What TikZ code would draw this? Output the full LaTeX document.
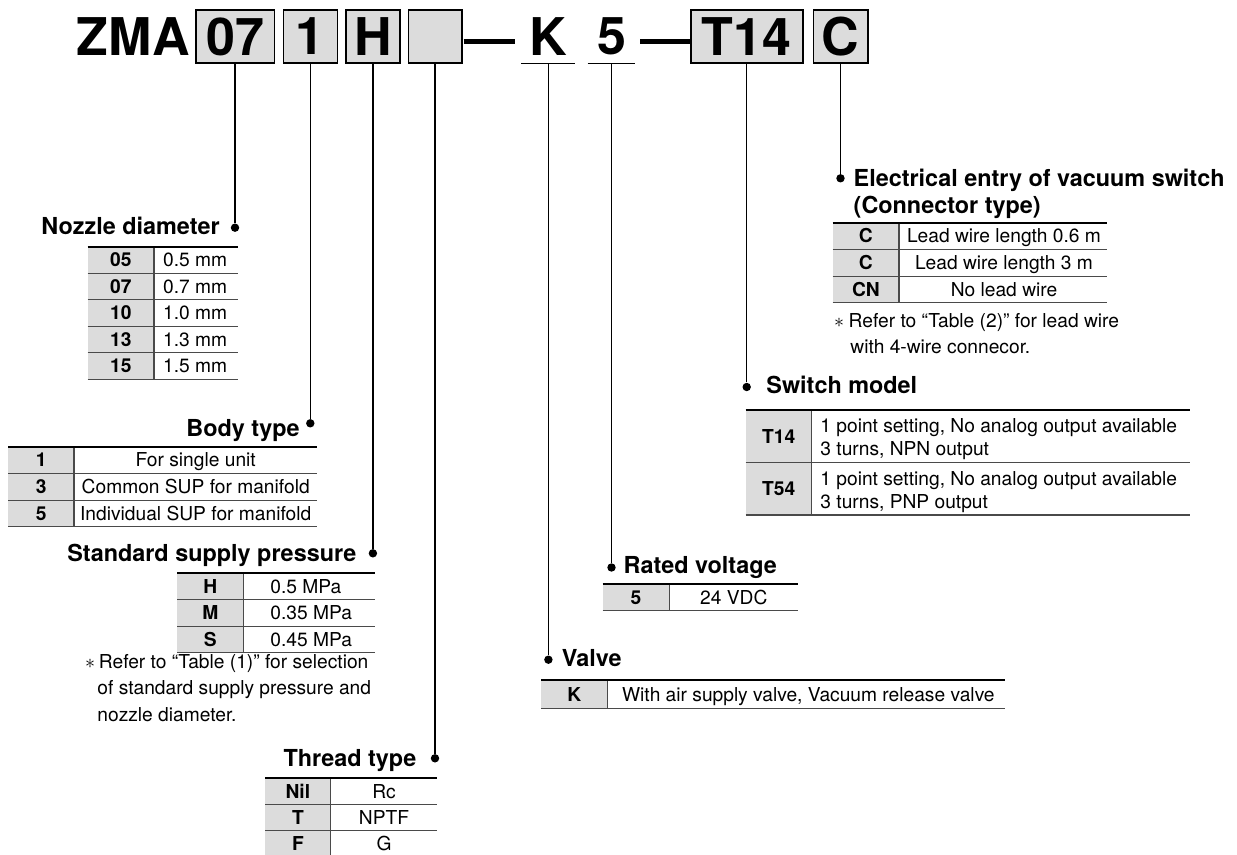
\documentclass[tikz,border=0pt]{standalone}
\usepackage{fontspec}
\setmainfont{TeX Gyre Heros}
\usepackage{tikz}
\usetikzlibrary{positioning}
\usetikzlibrary{calc}

\definecolor{boxgray}{HTML}{DCDCDC}
\definecolor{linegray}{HTML}{4A4A4A}

\tikzset{
    hdr/.style={font=\fontsize{26}{30}\selectfont\bfseries, inner sep=0pt},
    hbox/.style={hdr, draw, line width=0.8pt, fill=boxgray, minimum height=26.5pt},
    ubox/.style={hdr, minimum height=26.5pt},
    pin/.style={circle, fill, inner sep=0pt, minimum size=4.2pt},
    link/.style={line width=0.65pt},
    dashline/.style={line width=2.4pt},
    ttl/.style={font=\fontsize{11.7}{14}\selectfont\bfseries, inner sep=0pt},
    code/.style={font=\fontsize{9.6}{11}\selectfont\bfseries, inner sep=0pt, anchor=base},
    desc/.style={font=\fontsize{9.6}{11}\selectfont, inner sep=0pt},
    toprule/.style={line width=1pt},
    rowline/.style={line width=0.55pt, linegray},
}

\begin{document}
\begin{tikzpicture}[x=0.5pt, y=-0.5pt]
    \useasboundingbox (0,0) rectangle (1237,855);

    % model code
    \node[hdr, anchor=east] (zma) at (190,36.5) {ZMA};
    \node[hbox, minimum width=39.3pt] (b07) at (235,36.5) {07};
    \node[hbox, minimum width=27pt] (b1) at (310.3,36.5) {1};
    \node[hbox, minimum width=27.1pt] (bH) at (372.9,36.5) {H};
    \node[hbox, minimum width=26.7pt] (bx) at (435,36.5) {};
    \node[ubox, minimum width=26.6pt] (k) at (548.4,36.5) {K};
    \node[ubox, minimum width=23.5pt] (five) at (611.5,36.5) {5};
    \node[hbox, minimum width=56pt] (bT) at (746.7,36.5) {T14};
    \node[hbox, minimum width=27.2pt] (bC) at (840.5,36.5) {C};

    \draw[link] (k.south west) -- (k.south east);
    \draw[link] (five.south west) -- (five.south east);
    \draw[dashline, shorten <=0.6pt, shorten >=3.3pt] ([yshift=-2.6pt]bx.east) -- ([yshift=-2.6pt]k.west);
    \draw[dashline, shorten <=2.5pt] ([yshift=-2.6pt]five.east) -- ([yshift=-2.6pt]bT.west);

    \node[pin] (dnoz) at (b07.south |- 0,227.7) {};
    \node[pin] (dbody) at (b1.south |- 0,423.3) {};
    \node[pin] (dsup) at (bH.south |- 0,553.3) {};
    \node[pin] (dthr) at (bx.south |- 0,758.3) {};
    \node[pin] (dval) at (k.south |- 0,659.7) {};
    \node[pin] (drat) at (five.south |- 0,567.5) {};
    \node[pin] (dsw) at (bT.south |- 0,387) {};
    \node[pin] (del) at (bC.south |- 0,178.3) {};

    \draw[link] (b07) -- (dnoz);
    \draw[link] (b1) -- (dbody);
    \draw[link] (bH) -- (dsup);
    \draw[link] (bx) -- (dthr);
    \draw[link] (k) -- (dval);
    \draw[link] (five) -- (drat);
    \draw[link] (bT) -- (dsw);
    \draw[link] (bC) -- (del);

    % titles
    \node[ttl, anchor=base east] (tnoz) at (220,235) {Nozzle diameter};
    \node[ttl, anchor=base east] (tbody) at (300,436.7) {Body type};
    \node[ttl, anchor=base east] (tsup) at (356.7,561.7) {Standard supply pressure};
    \node[ttl, anchor=base east] (tthr) at (416.7,766.7) {Thread type};
    \node[ttl, anchor=base west] (tval) at (561.5,666.7) {Valve};
    \node[ttl, anchor=base west] (trat) at (623.3,573.3) {Rated voltage};
    \node[ttl, anchor=base west] (tsw) at (766,393.3) {Switch model};
    \node[ttl, anchor=base west] (tel1) at (853.3,186.7) {Electrical entry of vacuum switch};
    \node[ttl, anchor=base west] (tel2) at (853.3,213.3) {(Connector type)};

    % nozzle diameter
    \fill[boxgray] (87.7,246.7) rectangle (154,379.2);
    \foreach \c/\v [count=\i] in {05/0.5 mm, 07/0.7 mm, 10/1.0 mm, 13/1.3 mm, 15/1.5 mm} {
        \node[code] (nc\i) at (120.9,240.35+26.5*\i) {\c};
        \node[desc, anchor=base west] (nv\i) at (162.7,240.35+26.5*\i) {\v};
        \draw[rowline] (87.7,246.7+26.5*\i) -- (238.3,246.7+26.5*\i);
    }
    \draw[rowline] (154,246.7) -- (154,379.2);
    \draw[toprule] (87.7,246.7) -- (238.3,246.7);

    % body type
    \fill[boxgray] (8.3,446.7) rectangle (74,526.8);
    \foreach \c/\v [count=\i] in {1/For single unit, 3/Common SUP for manifold, 5/Individual SUP for manifold} {
        \node[code] (bc\i) at (41.2,440.25+26.7*\i) {\c};
        \node[desc, anchor=base] (bv\i) at (195.7,440.25+26.7*\i) {\v};
        \draw[rowline] (8.3,446.7+26.7*\i) -- (317.3,446.7+26.7*\i);
    }
    \draw[rowline] (74,446.7) -- (74,526.8);
    \draw[toprule] (8.3,446.7) -- (317.3,446.7);

    % standard supply pressure
    \fill[boxgray] (177.3,573.3) rectangle (243.3,652.8);
    \foreach \c/\v [count=\i] in {H/0.5 MPa, M/0.35 MPa, S/0.45 MPa} {
        \node[code] (sc\i) at (210.3,566.95+26.5*\i) {\c};
        \node[desc, anchor=base west] (sv\i) at (270,566.95+26.5*\i) {\v};
        \draw[rowline] (177.3,573.3+26.5*\i) -- (375,573.3+26.5*\i);
    }
    \draw[rowline] (243.3,573.3) -- (243.3,652.8);
    \draw[toprule] (177.3,573.3) -- (375,573.3);

    \node[desc, anchor=base] (sn0) at (90,668) {$\ast$};
    \node[desc, anchor=base west] (sn1) at (98.5,668) {Refer to “Table (1)” for selection};
    \node[desc, anchor=base west] (sn2) at (97,694.5) {of standard supply pressure and};
    \node[desc, anchor=base west] (sn3) at (97,721) {nozzle diameter.};

    % thread type
    \fill[boxgray] (265,778.3) rectangle (330.7,860);
    \foreach \c/\v [count=\i] in {Nil/Rc, T/NPTF, F/G} {
        \node[code] (tc\i) at (297.9,772.1+26.2*\i) {\c};
        \node[desc, anchor=base] (tv\i) at (384,772.1+26.2*\i) {\v};
        \draw[rowline] (265,778.3+26.2*\i) -- (437.3,778.3+26.2*\i);
    }
    \draw[rowline] (330.7,778.3) -- (330.7,860);
    \draw[toprule] (265,778.3) -- (437.3,778.3);

    % electrical entry
    \fill[boxgray] (832.7,222.7) rectangle (899,302.8);
    \foreach \c/\v [count=\i] in {C/Lead wire length 0.6 m, C/Lead wire length 3 m, CN/No lead wire} {
        \node[code] (ec\i) at (865.9,216.25+26.7*\i) {\c};
        \node[desc, anchor=base] (ev\i) at (1004,216.25+26.7*\i) {\v};
        \draw[rowline] (832.7,222.7+26.7*\i) -- (1106.7,222.7+26.7*\i);
    }
    \draw[rowline] (899,222.7) -- (899,302.8);
    \draw[toprule] (832.7,222.7) -- (1106.7,222.7);

    \node[desc, anchor=base] (en0) at (839,327.3) {$\ast$};
    \node[desc, anchor=base west] (en1) at (848.3,327.3) {Refer to “Table (2)” for lead wire};
    \node[desc, anchor=base west] (en2) at (850,354) {with 4-wire connecor.};

    % switch model
    \fill[boxgray] (745.7,410) rectangle (811.7,515);
    \foreach \c/\w [count=\i] in {T14/NPN, T54/PNP} {
        \node[code] (wc\i) at (778.7,390.6+52.5*\i) {\c};
        \node[desc, anchor=base west] (wa\i) at (820,380.5+52.5*\i) {1 point setting, No analog output available};
        \node[desc, anchor=base west] (wb\i) at (820,403.5+52.5*\i) {3 turns, \w\ output};
        \draw[rowline] (745.7,410+52.5*\i) -- (1190,410+52.5*\i);
    }
    \draw[rowline] (811.7,410) -- (811.7,515);
    \draw[toprule] (745.7,410) -- (1190,410);

    % rated voltage
    \fill[boxgray] (602.7,584.3) rectangle (669.3,610.7);
    \node[code] (rc1) at (636,604.4) {5};
    \node[desc, anchor=base] (rv1) at (733.8,604.4) {24 VDC};
    \draw[rowline] (602.7,610.7) -- (798.3,610.7);
    \draw[rowline] (669.3,584.3) -- (669.3,610.7);
    \draw[toprule] (602.7,584.3) -- (798.3,584.3);

    % valve
    \fill[boxgray] (541,680) rectangle (607.3,708.3);
    \node[code] (vc1) at (574.2,701) {K};
    \node[desc, anchor=base west] (vv1) at (621.7,701) {With air supply valve, Vacuum release valve};
    \draw[rowline] (541,708.3) -- (1005,708.3);
    \draw[rowline] (607.3,680) -- (607.3,708.3);
    \draw[toprule] (541,680) -- (1005,680);
\end{tikzpicture}
\end{document}
